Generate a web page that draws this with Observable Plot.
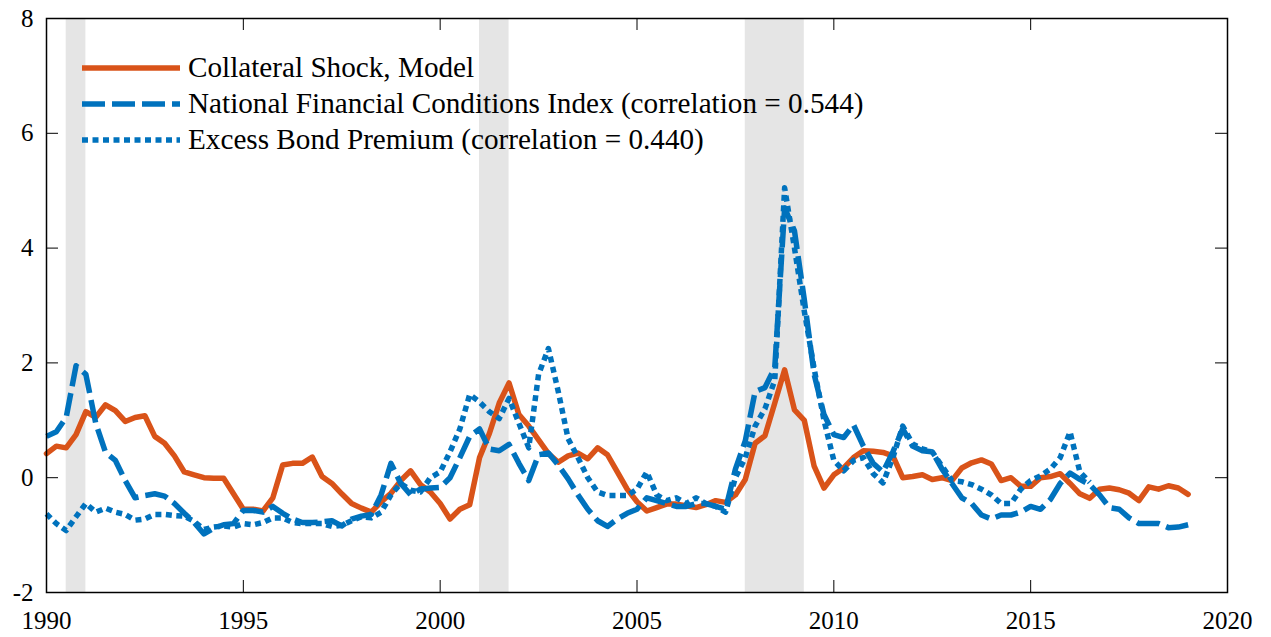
<!DOCTYPE html>
<html><head><meta charset="utf-8">
<script src="https://cdn.jsdelivr.net/npm/d3@7"></script>
<script src="https://cdn.jsdelivr.net/npm/@observablehq/plot@0.6"></script>
<style>
body{margin:0;background:#fff;}
#wrap{position:relative;width:1271px;height:637px;}
#legend{position:absolute;left:82px;top:50px;font-family:"Times New Roman","Liberation Serif",Tinos,"DejaVu Serif",serif;font-size:29.2px;color:#000;line-height:1;}
.row{display:flex;align-items:center;height:36px;white-space:nowrap;}
.row svg{margin-right:8px;flex:none;}
</style></head><body><div id="wrap"><div id="legend"></div></div>
<script>
// Quarterly series beginning 1990Q1
const startYear = 1990;
const collateral = [
0.42,0.55,0.52,0.75, 1.15,1.05,1.27,1.17, 0.98,1.05,1.08,0.72, 0.6,0.38,0.1,0.05,
0.0,-0.01,-0.01,-0.28, -0.55,-0.55,-0.58,-0.35, 0.22,0.25,0.25,0.36, 0.02,-0.1,-0.28,-0.45,
-0.53,-0.6,-0.42,-0.27, -0.05,0.12,-0.12,-0.25, -0.45,-0.72,-0.55,-0.47, 0.35,0.77,1.3,1.65,
1.1,0.9,0.66,0.42, 0.27,0.38,0.43,0.33, 0.52,0.4,0.1,-0.2, -0.42,-0.58,-0.52,-0.46,
-0.46,-0.49,-0.52,-0.47, -0.4,-0.43,-0.3,-0.03, 0.6,0.73,1.3,1.88, 1.18,1.0,0.2,-0.18,
0.05,0.17,0.35,0.47, 0.46,0.44,0.38,0.0, 0.02,0.05,-0.03,0.0, -0.05,0.17,0.26,0.31,
0.24,-0.05,0.0,-0.15, -0.15,0.0,0.02,0.07, -0.1,-0.28,-0.36,-0.2, -0.18,-0.21,-0.27,-0.4,
-0.16,-0.2,-0.14,-0.18, -0.29
];
const nfci = [
0.72,0.8,1.05,1.95, 1.8,0.95,0.44,0.3, -0.05,-0.35,-0.31,-0.28, -0.32,-0.45,-0.62,-0.78,
-0.98,-0.88,-0.82,-0.8, -0.57,-0.57,-0.6,-0.5, -0.62,-0.72,-0.78,-0.78, -0.77,-0.75,-0.84,-0.72,
-0.67,-0.64,-0.3,0.25, -0.1,-0.3,-0.2,-0.18, -0.17,0.0,0.35,0.72, 0.85,0.5,0.47,0.58,
0.25,-0.05,0.4,0.43, 0.22,-0.02,-0.3,-0.55, -0.75,-0.85,-0.72,-0.62, -0.55,-0.35,-0.4,-0.45,
-0.5,-0.5,-0.45,-0.45, -0.5,-0.55,0.15,0.64, 1.5,1.57,1.92,4.7, 4.3,3.1,1.8,1.1,
0.75,0.7,0.92,0.55, 0.25,0.1,0.45,0.85, 0.55,0.47,0.45,0.15, -0.1,-0.35,-0.45,-0.65,
-0.72,-0.65,-0.65,-0.6, -0.5,-0.55,-0.38,-0.1, 0.08,-0.03,-0.12,-0.3, -0.52,-0.55,-0.7,-0.8,
-0.8,-0.8,-0.87,-0.86, -0.82
];
const ebp = [
-0.63,-0.8,-0.92,-0.68, -0.45,-0.6,-0.53,-0.6, -0.64,-0.74,-0.72,-0.64, -0.64,-0.66,-0.67,-0.76,
-0.9,-0.86,-0.84,-0.86, -0.8,-0.82,-0.78,-0.7, -0.7,-0.78,-0.8,-0.8, -0.8,-0.85,-0.83,-0.75,
-0.68,-0.7,-0.6,-0.3, -0.1,-0.22,-0.25,0.0, 0.1,0.45,0.85,1.45, 1.32,1.15,1.03,1.38,
0.95,0.52,1.8,2.25, 1.5,0.68,0.35,0.0, -0.25,-0.31,-0.31,-0.31, -0.2,0.1,-0.3,-0.4,
-0.35,-0.45,-0.35,-0.45, -0.5,-0.6,0.0,0.35, 0.9,1.2,1.7,5.05, 4.0,2.9,1.9,1.0,
0.3,0.12,0.3,0.35, 0.07,-0.09,0.35,0.9, 0.59,0.5,0.45,0.2, -0.05,-0.07,-0.12,-0.2,
-0.3,-0.45,-0.45,-0.2, -0.05,0.03,0.15,0.35, 0.8,0.1,-0.08
];
const recStart = [1990.5, 2001.0, 2007.75];
const recEnd = [1991.0, 2001.75, 2009.25];
const xTicks = [1990, 1995, 2000, 2005, 2010, 2015, 2020];
const yTicks = [-2, 0, 2, 4, 6, 8];
const seriesNames = ["Collateral Shock, Model", "National Financial Conditions Index (correlation = 0.544)", "Excess Bond Premium (correlation = 0.440)"];

const red = "#D95319", blue = "#0072BD";
const serif = '"Times New Roman","Liberation Serif",Tinos,"DejaVu Serif",serif';
const toRows = arr => arr.map((v, i) => ({t: startYear + i / 4, v}));
const recessions = recStart.map((s, i) => ({start: s, end: recEnd[i]}));

const W = 1271, H = 637, mL = 46, mR = 44, mT = 18, mB = 45;
const pxX = (2020 - 1990) / (W - mL - mR);
const pxY = (8 - (-2)) / (H - mT - mB);
const tick = 12;
const innerX = xTicks.slice(1, -1), innerY = yTicks.slice(1, -1);
const dashNFCI = "23,7", dashEBP = "6,4.5";

const chart = Plot.plot({
  width: W, height: H, marginLeft: mL, marginRight: mR, marginTop: mT, marginBottom: mB,
  x: {domain: [1990, 2020], axis: null},
  y: {domain: [-2, 8], axis: null},
  style: {fontFamily: serif, fontSize: "25px", color: "#000", background: "#fff", overflow: "visible"},
  marks: [
    Plot.rect(recessions, {x1: "start", x2: "end", fill: "#e5e5e5"}),
    Plot.line(toRows(collateral), {x: "t", y: "v", stroke: red, strokeWidth: 5.5, strokeLinejoin: "round"}),
    Plot.line(toRows(nfci), {x: "t", y: "v", stroke: blue, strokeWidth: 5.5, strokeDasharray: dashNFCI, strokeLinecap: "butt"}),
    Plot.line(toRows(ebp), {x: "t", y: "v", stroke: blue, strokeWidth: 5.5, strokeDasharray: dashEBP, strokeLinecap: "butt"}),
    Plot.ruleX(innerX, {y1: -2, y2: -2 + tick * pxY, stroke: "#000", strokeWidth: 1}),
    Plot.ruleX(innerX, {y1: 8, y2: 8 - tick * pxY, stroke: "#000", strokeWidth: 1}),
    Plot.ruleY(innerY, {x1: 1990, x2: 1990 + tick * pxX, stroke: "#000", strokeWidth: 1}),
    Plot.ruleY(innerY, {x1: 2020, x2: 2020 - tick * pxX, stroke: "#000", strokeWidth: 1}),
    Plot.frame({stroke: "#000", strokeWidth: 1.5}),
    Plot.axisX({ticks: xTicks, tickSize: 0, tickPadding: 19, tickFormat: d => String(d), fontSize: 25, label: null, fontFamily: serif}),
    Plot.axisY({ticks: yTicks, tickSize: 0, tickPadding: 13, tickFormat: d => String(d), fontSize: 25, label: null, fontFamily: serif})
  ]
});
const wrap = document.getElementById("wrap");
wrap.insertBefore(chart, wrap.firstChild);

const styles = [
  {stroke: red, dash: null},
  {stroke: blue, dash: dashNFCI},
  {stroke: blue, dash: dashEBP}
];
const legend = document.getElementById("legend");
seriesNames.forEach((name, i) => {
  const row = document.createElement("div");
  row.className = "row";
  const s = styles[i];
  row.innerHTML = `<svg width="98" height="10"><line x1="0" x2="98" y1="5" y2="5" stroke="${s.stroke}" stroke-width="5.5" ${s.dash ? `stroke-dasharray="${s.dash}"` : ""}/></svg><span>${name}</span>`;
  legend.appendChild(row);
});
</script>
</body></html>
